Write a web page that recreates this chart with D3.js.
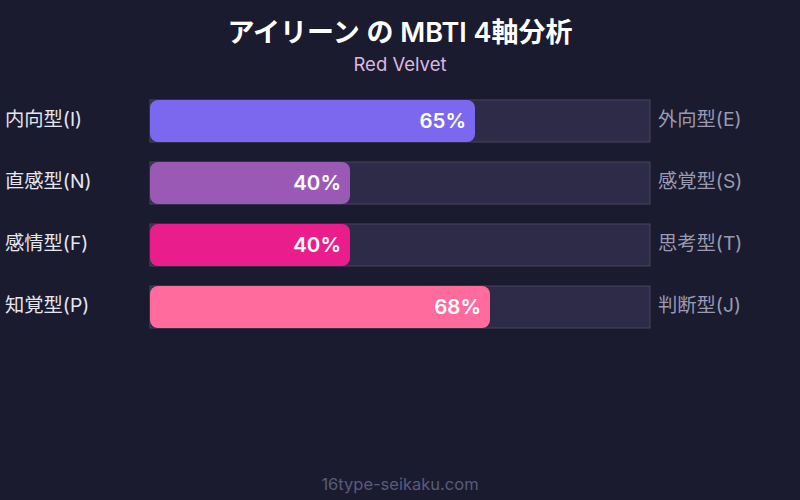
<!DOCTYPE html>
<html>
<head>
<meta charset="utf-8">
<script src="https://cdn.jsdelivr.net/npm/d3@7"></script>
<style>
  body { margin: 0; background: #1a1b2e; }
  text { font-family: Inter, "Noto Sans CJK JP", sans-serif; }
</style>
</head>
<body>
<div id="chart"></div>
<script>
const width = 800;
const height = 500;

// MBTI axes
const leftLabels = ["内向型(I)", "直感型(N)", "感情型(F)", "知覚型(P)"];
const rightLabels = ["外向型(E)", "感覚型(S)", "思考型(T)", "判断型(J)"];
const values = [65, 40, 40, 68];
const colors = ["#7b68ee", "#9b59b6", "#e91e8c", "#ff6b9d"];

const svg = d3.select("#chart").append("svg")
  .attr("width", width)
  .attr("height", height);

svg.append("rect").attr("width", width).attr("height", height).attr("fill", "#1a1b2e");

svg.append("text")
  .attr("x", width / 2).attr("y", 42)
  .attr("text-anchor", "middle")
  .attr("fill", "#ffffff")
  .attr("font-size", 27).attr("font-weight", 600)
  .text("アイリーン の MBTI 4軸分析");

svg.append("text")
  .attr("x", width / 2).attr("y", 71)
  .attr("text-anchor", "middle")
  .attr("fill", "#dcb8e0")
  .attr("font-size", 18.5)
  .text("Red Velvet");

const x = d3.scaleLinear().domain([0, 100]).range([150, 650]);
const rowStep = 62;
const bh = 42;

const rows = svg.selectAll("g.row")
  .data(values)
  .join("g")
  .attr("class", "row")
  .attr("transform", (d, i) => `translate(0,${100 + i * rowStep})`);

rows.append("rect")
  .attr("x", x(0)).attr("y", 0)
  .attr("width", x(100) - x(0)).attr("height", bh)
  .attr("fill", "#2d2b47")
  .attr("stroke", "#46445f").attr("stroke-width", 1);

rows.append("rect")
  .attr("x", x(0)).attr("y", 0)
  .attr("width", d => x(d) - x(0)).attr("height", bh)
  .attr("rx", 8)
  .attr("fill", (d, i) => colors[i]);

rows.append("text")
  .attr("x", d => x(d) - 9).attr("y", bh / 2 + 7)
  .attr("text-anchor", "end")
  .attr("fill", "#ffffff")
  .attr("font-size", 20.5).attr("font-weight", 600)
  .text(d => d + "%");

rows.append("text")
  .attr("x", 5).attr("y", bh / 2 + 5)
  .attr("fill", "#e6e6ef")
  .attr("font-size", 19.3)
  .text((d, i) => leftLabels[i]);

rows.append("text")
  .attr("x", 658).attr("y", bh / 2 + 5)
  .attr("fill", "#9a9ab2")
  .attr("font-size", 19.3)
  .text((d, i) => rightLabels[i]);

svg.append("text")
  .attr("x", width / 2).attr("y", 490)
  .attr("text-anchor", "middle")
  .attr("fill", "#585b7e")
  .attr("font-size", 16.5)
  .text("16type-seikaku.com");
</script>
</body>
</html>
